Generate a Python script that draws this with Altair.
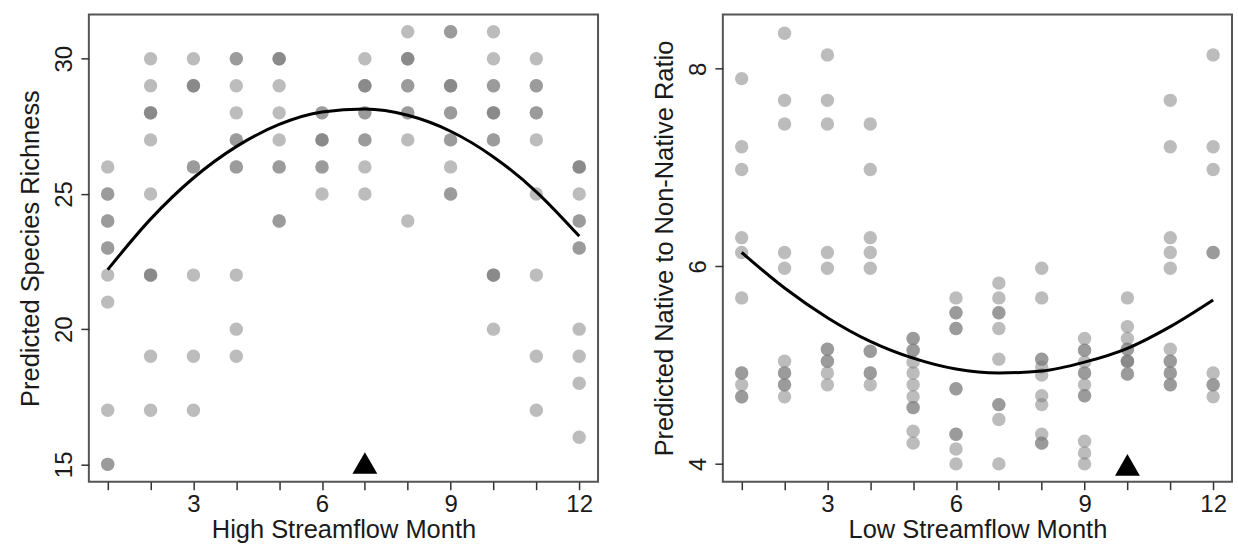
import altair as alt
import pandas as pd

MONTHS = list(range(1, 13))

# Predicted species richness per high-streamflow month; repeated values are
# overlapping observations and draw darker.
richness = [
    [26, 25, 25, 24, 24, 23, 23, 22, 21, 17, 15, 15],
    [30, 29, 28, 28, 28, 27, 25, 22, 22, 22, 19, 17],
    [30, 29, 29, 29, 26, 26, 22, 19, 17],
    [30, 30, 29, 28, 27, 27, 26, 26, 22, 20, 19],
    [30, 30, 30, 29, 28, 27, 26, 26, 24, 24],
    [28, 28, 27, 27, 27, 26, 26, 25],
    [30, 29, 29, 29, 28, 28, 27, 27, 26, 25],
    [31, 30, 30, 30, 29, 29, 28, 28, 27, 24],
    [31, 31, 29, 29, 29, 28, 28, 27, 27, 26, 25, 25],
    [31, 30, 29, 29, 28, 28, 28, 27, 27, 22, 22, 22, 20],
    [30, 29, 29, 28, 28, 27, 25, 22, 19, 17],
    [26, 26, 26, 25, 24, 24, 23, 23, 20, 19, 18, 16],
]
richness_fit = [22.20, 24.07, 25.59, 26.75, 27.57, 28.03,
                28.14, 27.91, 27.32, 26.37, 25.08, 23.44]

# Predicted native to non-native ratio per low-streamflow month.
ratio = [
    [7.90, 7.21, 6.98, 6.29, 6.14, 5.68, 4.92, 4.92, 4.80, 4.68, 4.68],
    [8.36, 7.68, 7.44, 6.14, 5.98, 5.04, 4.92, 4.92, 4.80, 4.80, 4.68],
    [8.14, 7.68, 7.44, 6.14, 5.98, 5.16, 5.16, 5.04, 5.04, 4.92, 4.80],
    [7.44, 6.98, 6.29, 6.14, 5.98, 5.14, 5.14, 4.92, 4.92, 4.80],
    [5.27, 5.27, 5.15, 5.15, 5.03, 4.92, 4.80, 4.68, 4.57, 4.57, 4.33, 4.21],
    [5.68, 5.53, 5.53, 5.37, 5.37, 4.76, 4.76, 4.30, 4.30, 4.15, 4.00],
    [5.83, 5.68, 5.53, 5.53, 5.37, 5.06, 4.60, 4.60, 4.45, 4.00],
    [5.98, 5.68, 5.06, 5.06, 4.98, 4.90, 4.69, 4.60, 4.30, 4.21, 4.21],
    [5.27, 5.15, 5.15, 5.03, 4.92, 4.92, 4.80, 4.69, 4.69, 4.23, 4.11, 4.00],
    [5.68, 5.39, 5.27, 5.16, 5.16, 5.04, 5.04, 5.04, 4.91, 4.91],
    [7.68, 7.21, 6.29, 6.14, 5.98, 5.16, 5.04, 5.04, 4.92, 4.92, 4.80, 4.80],
    [8.14, 7.21, 6.98, 6.14, 6.14, 4.92, 4.80, 4.80, 4.68],
]
ratio_fit = [6.14, 5.78, 5.48, 5.24, 5.07, 4.96,
             4.92, 4.94, 5.03, 5.17, 5.39, 5.66]

# Month marked with a triangle on each panel, and the value it sits at.
richness_marker = {"month": [7], "value": [15.05]}
ratio_marker = {"month": [10], "value": [3.99]}

FONT = "Liberation Sans"
TEXT = "#1a1a1a"
X_DOMAIN = [0.56, 12.44]


def long_table(columns):
    rows = [(m, v) for m, vals in zip(MONTHS, columns) for v in vals]
    return pd.DataFrame(rows, columns=["month", "value"])


def panel(columns, fit, marker, x_title, y_title, y_domain, y_ticks):
    x_enc = alt.X(
        "month:Q",
        scale=alt.Scale(domain=X_DOMAIN, nice=False, zero=False),
        axis=alt.Axis(
            values=MONTHS,
            labelExpr="datum.value % 3 == 0 ? datum.label : ''",
            title=x_title,
            tickSize=8,
            labelPadding=3,
            titlePadding=1,
        ),
    )
    y_enc = alt.Y(
        "value:Q",
        scale=alt.Scale(domain=y_domain, nice=False, zero=False),
        axis=alt.Axis(
            values=y_ticks,
            format="d",
            title=y_title,
            labelAngle=270,
            labelAlign="center",
            labelBaseline="bottom",
            tickSize=8,
            labelPadding=4,
            titlePadding=9,
        ),
    )
    points = alt.Chart(long_table(columns)).mark_circle(
        size=180, color="#7a7a7a", opacity=0.5
    ).encode(x=x_enc, y=y_enc)
    curve = alt.Chart(pd.DataFrame({"month": MONTHS, "value": fit})).mark_line(
        color="black", strokeWidth=3, interpolate="monotone"
    ).encode(x="month:Q", y="value:Q")
    tri = alt.Chart(pd.DataFrame(marker)).mark_point(
        shape="triangle-up", size=620, filled=True, color="black", opacity=1
    ).encode(x="month:Q", y="value:Q")
    return (points + curve + tri).properties(width=510, height=468)


left = panel(richness, richness_fit, richness_marker,
             "High Streamflow Month", "Predicted Species Richness",
             [14.36, 31.64], [15, 20, 25, 30])
right = panel(ratio, ratio_fit, ratio_marker,
              "Low Streamflow Month", "Predicted Native to Non-Native Ratio",
              [3.82, 8.55], [4, 6, 8])

chart = alt.hconcat(left, right, spacing=125, bounds="flush").properties(
    padding={"left": 18, "top": 13, "right": 5, "bottom": 0},
    background="white",
).configure_view(
    stroke="#555555", strokeWidth=2
).configure_axis(
    domain=False, grid=False,
    tickColor="#333333", tickWidth=1.5,
    labelFont=FONT, titleFont=FONT,
    labelFontSize=24, titleFontSize=25.5,
    labelColor=TEXT, titleColor=TEXT,
    titleFontWeight="normal",
)

chart.save("out.html", embed_options={"renderer": "svg", "actions": False})
